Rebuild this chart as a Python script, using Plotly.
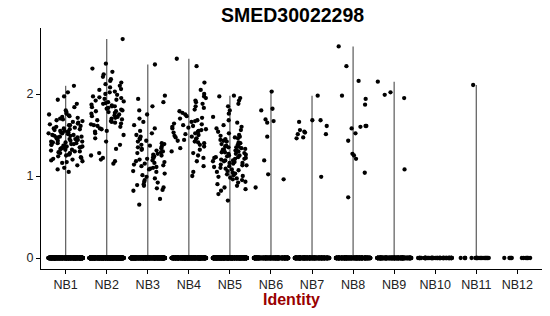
import math
import plotly.graph_objects as go

categories = ["NB1", "NB2", "NB3", "NB4", "NB5", "NB6", "NB7", "NB8", "NB9", "NB10", "NB11", "NB12"]

nb1 = [2.10, 2.02, 1.97, 1.93, 1.88, 1.84, 1.80, 1.78,
       1.76, 1.75, 1.74, 1.73, 1.72, 1.71, 1.70, 1.69, 1.68, 1.67, 1.66, 1.65, 1.64, 1.63, 1.62, 1.61,
       1.60, 1.59, 1.58, 1.57, 1.56, 1.55, 1.54, 1.53, 1.52, 1.51, 1.50, 1.49, 1.48, 1.47, 1.46, 1.45,
       1.44, 1.43, 1.42, 1.41, 1.40, 1.39, 1.38, 1.37, 1.36, 1.35, 1.34, 1.33, 1.32, 1.31, 1.30, 1.29,
       1.28, 1.27, 1.26, 1.25, 1.24, 1.23, 1.22, 1.21, 1.20, 1.19, 1.18, 1.17, 1.16,
       1.62, 1.58, 1.55, 1.52, 1.50, 1.48, 1.46, 1.44, 1.42, 1.40, 1.38, 1.36, 1.34, 1.32, 1.30, 1.28,
       1.45, 1.41, 1.37, 1.53, 1.49, 1.43, 1.35, 1.57, 1.39, 1.47, 1.33,
       1.13, 1.10, 1.08, 1.05]
nb2 = [2.67, 2.37, 2.31, 2.27, 2.24, 2.21, 2.18, 2.16, 2.14, 2.12, 2.10,
       2.08, 2.06, 2.05, 2.03, 2.02, 2.00, 1.99, 1.97, 1.96, 1.94, 1.93, 1.91, 1.90, 1.88, 1.87, 1.85,
       1.84, 1.82, 1.81, 1.79, 1.78, 1.76, 1.75, 1.73, 1.72, 1.70, 1.69, 1.67, 1.66, 1.64, 1.63, 1.61,
       1.60, 1.58, 1.57, 1.55, 1.54, 1.52, 1.50,
       1.92, 1.86, 1.83, 1.80, 1.77, 1.74, 1.71, 1.68, 1.89, 1.95, 1.65, 1.62, 1.85, 1.79,
       1.46, 1.42, 1.38, 1.33, 1.28, 1.25, 1.22, 1.20, 1.18, 1.15]
nb3 = [2.36, 1.98, 1.94, 1.90, 1.85, 1.80, 1.75, 1.70, 1.66, 1.62, 1.58, 1.55, 1.52, 1.50, 1.48, 1.46,
       1.45, 1.43, 1.42, 1.40, 1.39, 1.38, 1.37, 1.36, 1.35, 1.34, 1.33, 1.32, 1.31, 1.30, 1.29, 1.28,
       1.27, 1.26, 1.25, 1.24, 1.23, 1.22, 1.21, 1.20, 1.19, 1.18, 1.17, 1.16, 1.15, 1.14, 1.13, 1.12,
       1.11, 1.10, 1.09, 1.08, 1.06, 1.05, 1.03, 1.01, 0.99, 0.97, 0.95, 0.93, 0.92, 0.90, 0.89, 0.88,
       0.86, 0.85, 0.83, 0.82, 0.72, 0.65]
nb4 = [2.43, 2.34, 2.14, 2.05, 2.00, 1.97, 1.95, 1.92, 1.90, 1.88, 1.85, 1.83, 1.81, 1.79, 1.77, 1.75,
       1.73, 1.71, 1.70, 1.68, 1.67, 1.66, 1.64, 1.63, 1.62, 1.61, 1.60, 1.59, 1.58, 1.57, 1.56, 1.55,
       1.54, 1.53, 1.52, 1.51, 1.50, 1.49, 1.48, 1.47, 1.46, 1.45, 1.44, 1.43, 1.42, 1.41, 1.40, 1.38,
       1.36, 1.34, 1.32, 1.30, 1.28, 1.25, 1.22, 1.18, 1.12, 1.05, 1.00]
nb5 = [1.98, 1.97, 1.95, 1.92, 1.88, 1.85, 1.80, 1.76, 1.72, 1.68, 1.65, 1.62, 1.60, 1.58, 1.56, 1.54,
       1.52, 1.50, 1.49, 1.48, 1.47, 1.46, 1.45, 1.44, 1.43, 1.42, 1.41, 1.40, 1.39, 1.38, 1.37, 1.36,
       1.36, 1.35, 1.34, 1.33, 1.32, 1.32, 1.31, 1.30, 1.29, 1.29, 1.28, 1.27, 1.27, 1.26, 1.25, 1.25,
       1.24, 1.23, 1.23, 1.22, 1.21, 1.21, 1.20, 1.19, 1.19, 1.18, 1.17, 1.16, 1.16, 1.15, 1.14, 1.13,
       1.13, 1.12, 1.11, 1.10, 1.09, 1.08, 1.07, 1.06, 1.05, 1.04, 1.03, 1.02, 1.01, 1.00, 0.99, 0.98,
       0.97, 0.96, 0.95, 0.93, 0.92, 0.90, 0.88, 0.86, 0.84, 0.82, 0.78, 0.70, 1.31, 1.22, 1.35, 1.18]
nb6 = [2.03, 1.82, 1.80, 1.69, 1.67, 1.65, 1.48, 1.19, 1.02, 0.96, 0.86]
nb7 = [1.98, 1.68, 1.66, 1.61, 1.56, 1.54, 1.53, 1.51, 1.51, 1.47, 1.46, 1.68, 0.99]
nb8 = [2.58, 2.34, 2.16, 1.98, 1.94, 1.87, 1.61, 1.61, 1.60, 1.58, 1.52, 1.43, 1.27, 1.25, 1.21, 1.04, 0.74]
nb9 = [2.15, 1.99, 2.02, 1.95, 1.08]
nb10 = []
nb11 = [2.11]
nb12 = []
expr_values = [nb1, nb2, nb3, nb4, nb5, nb6, nb7, nb8, nb9, nb10, nb11, nb12]
zero_counts = [600, 700, 600, 600, 600, 400, 400, 400, 300, 60, 20, 12]

JW = 0.42


def jitter(k):
    h = math.sin(k * 12.9898 + 78.233) * 43758.5453
    return ((h - math.floor(h)) - 0.5) * 2 * JW


# violin (collapsed to a line from min to max)
vx, vy = [], []
for i, vals in enumerate(expr_values):
    if vals:
        vx += [i, i, None]
        vy += [0, max(vals), None]

px, py = [], []
k = 0
for i, (vals, nz) in enumerate(zip(expr_values, zero_counts)):
    for v in list(vals) + [0.0] * nz:
        k += 1
        px.append(i + jitter(k))
        py.append(v)

fig = go.Figure()
fig.add_trace(go.Scatter(x=vx, y=vy, mode="lines", line=dict(color="#666666", width=1.3),
                         hoverinfo="skip", showlegend=False))
fig.add_trace(go.Scatter(x=px, y=py, mode="markers", marker=dict(color="black", size=4.3, line=dict(width=0)),
                         showlegend=False))

font_fam = "Liberation Sans, Arial, sans-serif"
fig.update_layout(
    width=550, height=316,
    margin=dict(l=41, r=8, t=28, b=47),
    paper_bgcolor="white", plot_bgcolor="white",
    font=dict(family=font_fam, color="black", size=12),
    title=dict(text="<b>SMED30022298</b>", x=0.532, xanchor="center", y=1 - 15 / 316, yanchor="middle",
               font=dict(family=font_fam, size=19.5, color="black")),
    xaxis=dict(range=[-0.6, 11.6], tickmode="array", tickvals=list(range(len(categories))), ticktext=categories,
               showgrid=False, zeroline=False, showline=True, linecolor="black", linewidth=1.3,
               ticks="outside", ticklen=4, tickcolor="black", tickwidth=1,
               tickfont=dict(size=12.5, color="#222222")),
    yaxis=dict(range=[-0.134, 2.805], tickvals=[0, 1, 2], ticktext=["0", "1", "2"],
               showgrid=False, zeroline=False, showline=True, linecolor="black", linewidth=1.3,
               ticks="outside", ticklen=4, tickcolor="black", tickwidth=1,
               tickfont=dict(size=12.5, color="#222222")),
    annotations=[dict(text="<b>Identity</b>", xref="paper", yref="paper", x=0.5, y=(269 - 299) / 241,
                      xanchor="center", yanchor="middle", showarrow=False,
                      font=dict(family=font_fam, size=16, color="#990000"))],
)
fig.write_html("out.html")
